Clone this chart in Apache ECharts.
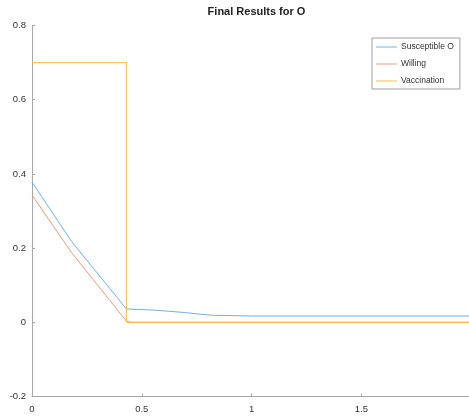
<!DOCTYPE html>
<html>
<head>
<meta charset="utf-8">
<script src="https://cdn.jsdelivr.net/npm/echarts@6/dist/echarts.min.js"></script>
<style>
html,body{margin:0;padding:0;background:#fff;}
#chart{width:469px;height:416px;}
</style>
</head>
<body>
<div id="chart"></div>
<script>
const titleText = 'Final Results for O';
const seriesNames = ['Susceptible O', 'Willing', 'Vaccination'];

const susceptibleT = [0, 0.18, 0.43, 0.55, 0.62, 0.7, 0.76, 0.82, 1.0, 1.99];
const susceptibleV = [0.378, 0.218, 0.036, 0.033, 0.030, 0.026, 0.022, 0.019, 0.017, 0.017];

const willingT = [0, 0.18, 0.43, 0.45, 1.99];
const willingV = [0.343, 0.188, 0.003, 0.0, 0.0];

const vaccT = [0, 0.43, 0.43, 1.99];
const vaccV = [0.7, 0.7, 0.0, 0.0];

const xTicks = [0, 0.5, 1, 1.5];
const yTicks = [-0.2, 0, 0.2, 0.4, 0.6, 0.8];

const colors = ['#72b0dc', '#e89a7c', '#eec24e'];

function pairs(t, v) { return t.map((x, i) => [x, v[i]]); }

const chart = echarts.init(document.getElementById('chart'), null, {renderer: 'canvas'});
const axisCol = '#a8a8a8';
const textCol = '#333333';
const fontFam = '"Liberation Sans", Arial, Helvetica, sans-serif';

chart.setOption({
  animation: false,
  backgroundColor: '#ffffff',
  title: {
    text: titleText,
    left: 251.5,
    textAlign: 'center',
    top: 1,
    textStyle: {fontFamily: fontFam, fontSize: 11, fontWeight: 'bold', color: '#222'}
  },
  legend: {
    data: seriesNames,
    orient: 'vertical',
    left: 372,
    top: 38,
    padding: [4, 6, 3, 4],
    icon: 'rect',
    itemWidth: 21,
    itemHeight: 1,
    itemGap: 7,
    borderColor: '#a0a0a0',
    borderWidth: 1,
    backgroundColor: '#ffffff',
    textStyle: {fontFamily: fontFam, fontSize: 8.5, color: textCol, lineHeight: 10, padding: [0, 0, 0, -1]}
  },
  grid: {left: 32, right: 0, top: 25.5, bottom: 19.5, containLabel: false},
  xAxis: {
    type: 'value',
    min: 0,
    max: 1.99,
    axisLine: {show: true, onZero: false, lineStyle: {color: axisCol, width: 1}},
    axisTick: {show: true, inside: true, length: 3, lineStyle: {color: axisCol}, customValues: xTicks},
    axisLabel: {customValues: xTicks, margin: 8, fontFamily: fontFam, fontSize: 9.5, color: textCol,
      formatter: v => String(v)},
    splitLine: {show: false}
  },
  yAxis: {
    type: 'value',
    min: -0.2,
    max: 0.8,
    axisLine: {show: true, onZero: false, lineStyle: {color: axisCol, width: 1}},
    axisTick: {show: true, inside: true, length: 3, lineStyle: {color: axisCol}, customValues: yTicks},
    axisLabel: {customValues: yTicks, margin: 6, fontFamily: fontFam, fontSize: 9.5, color: textCol,
      formatter: v => String(Math.round(v * 10) / 10)},
    splitLine: {show: false}
  },
  series: [
    {name: seriesNames[0], type: 'line', data: pairs(susceptibleT, susceptibleV), symbol: 'none',
      lineStyle: {color: colors[0], width: 1}, itemStyle: {color: colors[0]}},
    {name: seriesNames[1], type: 'line', data: pairs(willingT, willingV), symbol: 'none',
      lineStyle: {color: colors[1], width: 1}, itemStyle: {color: colors[1]}},
    {name: seriesNames[2], type: 'line', data: pairs(vaccT, vaccV), symbol: 'none',
      lineStyle: {color: colors[2], width: 1}, itemStyle: {color: colors[2]}}
  ]
});
</script>
</body>
</html>
